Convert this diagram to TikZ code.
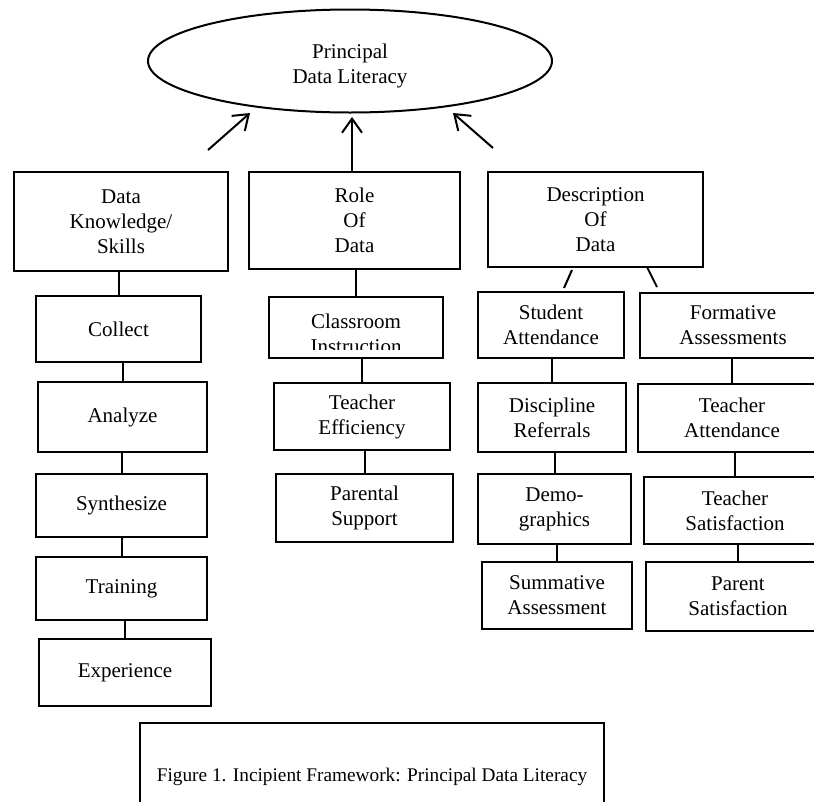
\documentclass[tikz,border=0pt]{standalone}
\usepackage{fontspec}
\setmainfont{Liberation Serif}
\definecolor{ink}{RGB}{0,0,0}
\usepackage{tikz}
\usetikzlibrary{arrows.meta,positioning,shapes.geometric}

\begin{document}
\begin{tikzpicture}[x=1pt,y=-1pt,
    font=\fontsize{21}{25}\selectfont,
    box/.style={draw=ink,line width=2pt,align=center,inner sep=0pt},
    link/.style={draw=ink,line width=2pt},
    up/.style={link,-{Straight Barb[length=14pt,width=20pt,line width=2pt]}}]
  \clip (0,0) rectangle (814,801);
  \node[box,ellipse,minimum width=404pt,minimum height=103pt,text height=49pt,text depth=5pt] (lit) at (350,61) {Principal\\Data Literacy};

  \node[box,minimum width=214pt,minimum height=99pt] (dk) at (121,221.5) {Data\\Knowledge/\\Skills};
  \node[box,minimum width=211pt,minimum height=97pt] (role) at (354.5,220.5) {Role\\Of\\Data};
  \node[box,minimum width=215pt,minimum height=95pt] (desc) at (595.5,219.5) {Description\\Of\\Data};

  \node[box,minimum width=165pt,minimum height=66pt] (collect) at (118.5,329) {Collect};
  \node[box,minimum width=169pt,minimum height=70pt] (analyze) at (122.5,417) {Analyze};
  \node[box,minimum width=171pt,minimum height=63pt] (synth) at (121.5,505.5) {Synthesize};
  \node[box,minimum width=171pt,minimum height=63pt] (train) at (121.5,588.5) {Training};
  \node[box,minimum width=172pt,minimum height=67pt] (exper) at (125,672.5) {Experience};

  \node[box,minimum width=174pt,minimum height=61pt,
    path picture={
      \clip ([yshift=9pt]path picture bounding box.south west) rectangle (path picture bounding box.north east);
      \node[align=center,inner sep=0pt] (cltext) at ([yshift=-6pt]path picture bounding box.center) {Classroom\\Instruction};
    }] (class) at (356,327.5) {};
  \node[box,minimum width=176pt,minimum height=67pt] (effic) at (362,416.5) {Teacher\\Efficiency};
  \node[box,minimum width=177pt,minimum height=68pt] (parent) at (364.5,508) {Parental\\Support};

  \node[box,minimum width=146pt,minimum height=66pt] (stud) at (551,325) {Student\\Attendance};
  \node[box,minimum width=148pt,minimum height=69pt] (disc) at (552,417.5) {Discipline\\Referrals};
  \node[box,minimum width=153pt,minimum height=70pt] (demo) at (554.5,509) {Demo-\\graphics};
  \node[box,minimum width=150pt,minimum height=67pt] (summ) at (557,595.5) {Summative\\Assessment};

  \node[box,minimum width=186pt,minimum height=65pt] (form) at (733,325.5) {Formative\\Assessments};
  \node[box,minimum width=188pt,minimum height=68pt] (tatt) at (732,418) {Teacher\\Attendance};
  \node[box,minimum width=182pt,minimum height=67pt] (tsat) at (735,510.5) {Teacher\\Satisfaction};
  \node[box,minimum width=184pt,minimum height=69pt] (psat) at (738,596.5) {Parent\\Satisfaction};

  \node[box,minimum width=464pt,minimum height=107pt,font=\fontsize{19.3}{23}\selectfont] (cap) at (372,776.5)
    {Figure 1. Incipient Framework: Principal Data Literacy};

  \coordinate (la) at (208,150);
  \coordinate (lb) at (250,113);
  \coordinate (ra) at (493,148);
  \coordinate (rb) at (453,113);
  \coordinate (mb) at (352,117);
  \coordinate (da) at (572,270);
  \coordinate (db) at (564,288);
  \coordinate (ea) at (647,267);
  \coordinate (eb) at (657,287);

  \draw[up] (la) -- (lb);
  \draw[up] (ra) -- (rb);
  \draw[up] (role.north -| mb) -- (mb);
  \draw[link] (da) -- (db);
  \draw[link] (ea) -- (eb);

  \foreach \a/\b in {dk/collect,collect/analyze,analyze/synth,synth/train,train/exper,
                     role/class,class/effic,effic/parent,
                     stud/disc,disc/demo,demo/summ,
                     form/tatt,tatt/tsat,tsat/psat}
    \draw[link] (\b.north |- \a.south) -- (\b.north);
\end{tikzpicture}
\end{document}
